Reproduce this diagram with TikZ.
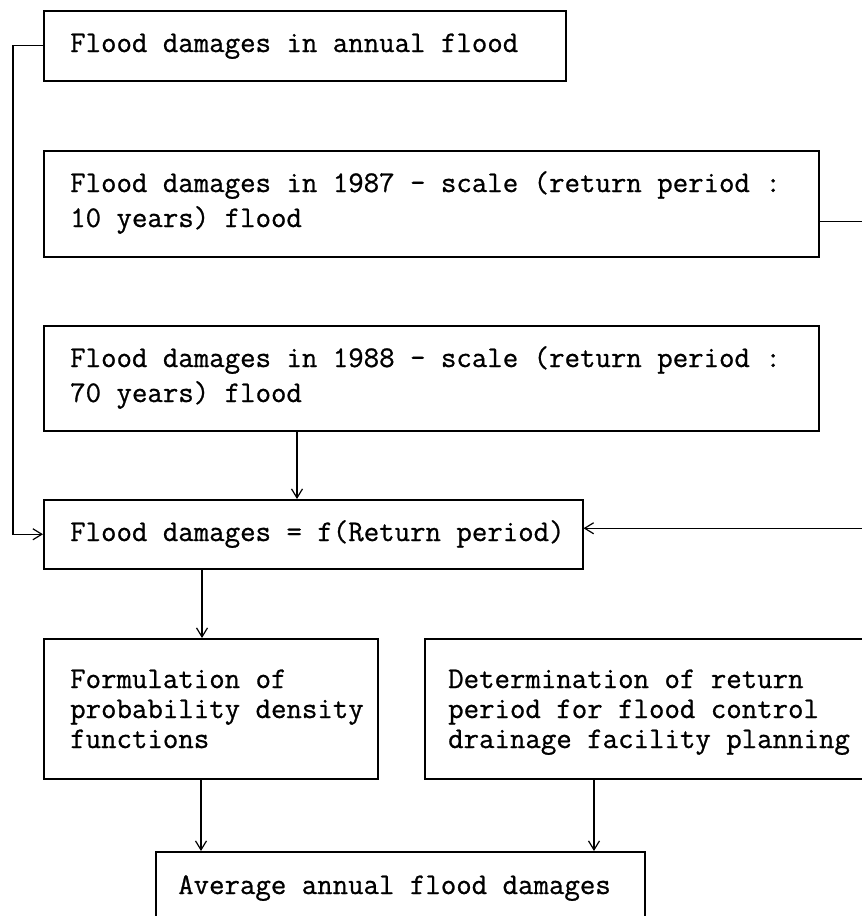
\documentclass[tikz,border=0pt]{standalone}
\usepackage{fontspec}
\newfontfamily\typewriter[FakeBold=0.8]{Latin Modern Mono}
\usetikzlibrary{arrows.meta}
\begin{document}
\begin{tikzpicture}[x=1pt,y=-1pt,
  box/.style={draw=black, line width=1.5pt, rectangle, inner sep=0pt, anchor=north west},
  txt/.style={anchor=base west, inner sep=0pt, font=\typewriter\fontsize{30}{35}\selectfont},
  conn/.style={draw=black, line width=1.3pt},
  arr/.style={conn, -{Straight Barb[length=9pt,width=11pt,line width=1.2pt]}}]
\useasboundingbox (0,0) rectangle (862,916);
\clip (0,0) rectangle (862,916);
% boxes
\node[box, minimum width=522pt, minimum height=70pt]  (b1) at (43,10) {};
\node[box, minimum width=775pt, minimum height=106pt] (b2) at (43,150) {};
\node[box, minimum width=775pt, minimum height=105pt] (b3) at (43,325) {};
\node[box, minimum width=539pt, minimum height=69pt]  (b4) at (43,499) {};
\node[box, minimum width=334pt, minimum height=140pt] (b5) at (43,638) {};
\node[box, minimum width=500pt, minimum height=140pt] (b6) at (424,638) {};
\node[box, minimum width=489pt, minimum height=100pt] (b7) at (155,851) {};
% texts
\node[txt] (t1)  at (70,52)  {Flood damages in annual flood};
\node[txt] (t2a) at (70,192) {Flood damages in 1987 - scale (return period :};
\node[txt] (t2b) at (70,227) {10 years) flood};
\node[txt] (t3a) at (70,367) {Flood damages in 1988 - scale (return period :};
\node[txt] (t3b) at (70,402) {70 years) flood};
\node[txt] (t4)  at (70,541) {Flood damages = f(Return period)};
\node[txt] (t5a) at (70,688) {Formulation of};
\node[txt] (t5b) at (70,718) {probability density};
\node[txt] (t5c) at (70,748) {functions};
\node[txt] (t6a) at (448,688) {Determination of return};
\node[txt] (t6b) at (448,718) {period for flood control};
\node[txt] (t6c) at (448,748) {drainage facility planning};
\node[txt] (t7)  at (178,894) {Average annual flood damages};
% connectors
\draw[arr] (b1.west) -- ++(-30,0) |- (b4.west);
\draw[arr] ([yshift=-18pt]b2.east) -- ++(80,0) |- ([yshift=6pt]b4.east);
\draw[arr] (b3.south -| 297,0) -- (b4.north -| 297,0);
\draw[arr] (b4.south -| 202,0) -- (b5.north -| 202,0);
\draw[arr] (b5.south -| 201,0) -- (b7.north -| 201,0);
\draw[arr] (b6.south -| 594,0) -- (b7.north -| 594,0);
\end{tikzpicture}
\end{document}
